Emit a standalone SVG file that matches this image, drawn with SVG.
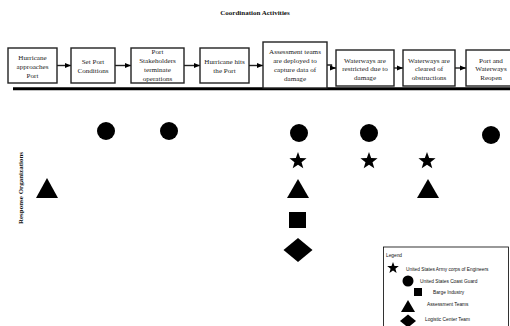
<svg xmlns="http://www.w3.org/2000/svg" width="510" height="326" viewBox="0 0 510 326">
<style>
.box{fill:#fff;stroke:#222;stroke-width:1.4}
.bt{font-family:"Liberation Serif","Times New Roman",serif;font-size:7.1px;fill:#222;text-anchor:middle}
.title{font-family:"Liberation Serif","Times New Roman",serif;font-size:7px;font-weight:bold;fill:#111;text-anchor:middle}
.conn{fill:none;stroke:#222;stroke-width:1.4}
.sym{fill:#000}
.lt{font-family:"Liberation Sans",Arial,sans-serif;font-size:4.8px;fill:#111}
</style>
<defs>
<marker id="ah" markerUnits="userSpaceOnUse" markerWidth="6" markerHeight="6" viewBox="0 0 6 6" refX="6" refY="3" orient="auto">
<path d="M0,0.6 L6,3 L0,5.4 Z" fill="#000"/>
</marker>
<path id="star" d="M0,-9 L2.17,-2.99 8.56,-2.78 3.52,1.14 5.29,7.28 0,3.7 -5.29,7.28 -3.52,1.14 -8.56,-2.78 -2.17,-2.99 Z"/>
</defs>
<rect width="510" height="326" fill="#fff"/>
<text class="title" x="255" y="15">Coordination Activities</text>
<text class="title" transform="translate(23,188) rotate(-90)">Response Organizations</text>

<g id="connectors">
<line class="conn" x1="57" y1="65.5" x2="71" y2="65.5" marker-end="url(#ah)"/>
<line class="conn" x1="115" y1="65.5" x2="131" y2="65.5" marker-end="url(#ah)"/>
<line class="conn" x1="184" y1="65.5" x2="200" y2="65.5" marker-end="url(#ah)"/>
<line class="conn" x1="249" y1="65.5" x2="263" y2="65.5" marker-end="url(#ah)"/>
<polyline class="conn" points="327,65 331.5,65 331.5,68 336,68" marker-end="url(#ah)"/>
<line class="conn" x1="394" y1="68" x2="403" y2="68" marker-end="url(#ah)"/>
<line class="conn" x1="455" y1="68" x2="466" y2="68" marker-end="url(#ah)"/>
<line x1="13" y1="88.8" x2="510" y2="88.8" stroke="#000" stroke-width="3"/>
</g>

<g id="n1"><rect class="box" x="8" y="48" width="49" height="35"/>
<text class="bt" x="32.5" y="59.5">Hurricane</text><text class="bt" x="32.5" y="68.5">approaches</text><text class="bt" x="32.5" y="77.5">Port</text></g>
<g id="n2"><rect class="box" x="71" y="48" width="44" height="35"/>
<text class="bt" x="93" y="63.5">Set Port</text><text class="bt" x="93" y="72.5">Conditions</text></g>
<g id="n3"><rect class="box" x="131" y="48" width="53" height="35"/>
<text class="bt" x="157.5" y="54">Port</text><text class="bt" x="157.5" y="63">Stakeholders</text><text class="bt" x="157.5" y="72">terminate</text><text class="bt" x="157.5" y="81">operations</text></g>
<g id="n4"><rect class="box" x="200" y="48" width="49" height="35"/>
<text class="bt" x="224.5" y="63.5">Hurricane hits</text><text class="bt" x="224.5" y="72.5">the Port</text></g>
<g id="n5"><rect class="box" x="263" y="42" width="64" height="46"/>
<text class="bt" x="295" y="53.5">Assessment teams</text><text class="bt" x="295" y="62.5">are deployed to</text><text class="bt" x="295" y="71.5">capture data of</text><text class="bt" x="295" y="80.5">damage</text></g>
<g id="n6"><rect class="box" x="336" y="50" width="58" height="36"/>
<text class="bt" x="365" y="62.5">Waterways are</text><text class="bt" x="365" y="71">restricted due to</text><text class="bt" x="365" y="79.5">damage</text></g>
<g id="n7"><rect class="box" x="403" y="50" width="52" height="36"/>
<text class="bt" x="429" y="62.5">Waterways are</text><text class="bt" x="429" y="71">cleared of</text><text class="bt" x="429" y="79.5">obstructions</text></g>
<g id="n8"><rect class="box" x="466" y="50" width="50" height="36"/>
<text class="bt" x="491" y="62.5">Port and</text><text class="bt" x="491" y="71">Waterways</text><text class="bt" x="491" y="79.5">Reopen</text></g>

<g id="markers">
<circle class="sym" cx="106" cy="131" r="9"/>
<circle class="sym" cx="169" cy="131" r="9"/>
<circle class="sym" cx="299" cy="133" r="9"/>
<circle class="sym" cx="369" cy="133" r="9"/>
<circle class="sym" cx="491" cy="135" r="9"/>
<use href="#star" x="298" y="161"/>
<use href="#star" x="369" y="161"/>
<use href="#star" x="427" y="161"/>
<polygon class="sym" points="47,178 36,198 58,198"/>
<polygon class="sym" points="298,179 287,198 309,198"/>
<polygon class="sym" points="428,179 417,198 439,198"/>
<rect class="sym" x="289" y="212" width="17" height="16"/>
<polygon class="sym" points="298,238 312.5,250 298,262 283.5,250"/>
</g>

<g id="legend">
<rect x="383.5" y="247" width="125" height="90" fill="#fff" stroke="#000" stroke-width="0.8"/>
<text class="lt" x="386" y="257">Legend</text>
<use href="#star" transform="translate(393,268) scale(0.68)"/>
<text class="lt" x="406" y="271">United States Army corps of Engineers</text>
<circle class="sym" cx="408" cy="281" r="5.5"/>
<text class="lt" x="420" y="283">United States Coast Guard</text>
<rect class="sym" x="414" y="288" width="8" height="8"/>
<text class="lt" x="433" y="294">Barge Industry</text>
<polygon class="sym" points="408,300 401,312 415,312"/>
<text class="lt" x="427" y="306">Assessment Teams</text>
<polygon class="sym" points="408,314.5 416,321 408,327.5 400,321"/>
<text class="lt" x="425" y="321">Logistic Center Team</text>
</g>
</svg>
